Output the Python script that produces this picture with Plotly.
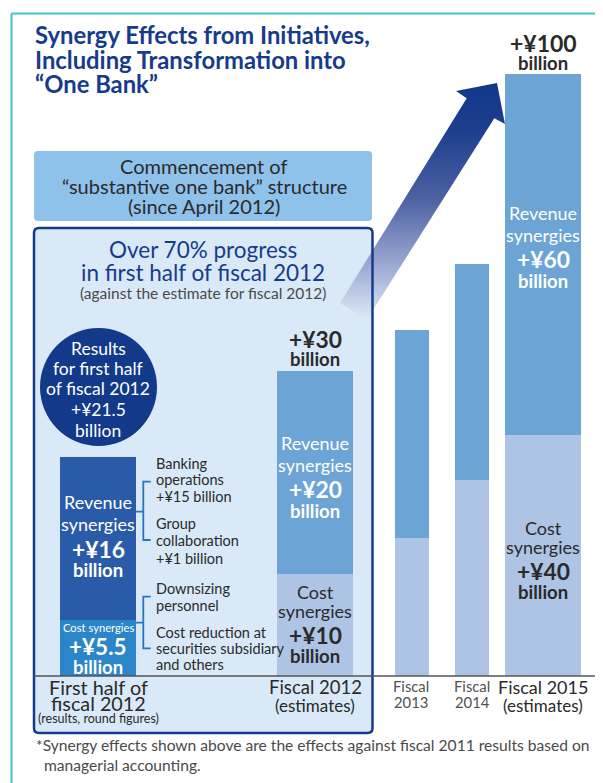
import plotly.graph_objects as go

# ---------------- data ----------------
left_categories = ["First half of fiscal 2012", "Fiscal 2012"]
left_cost = [5.5, 10]
left_revenue = [16, 20]

right_categories = ["Fiscal 2013", "Fiscal 2014", "Fiscal 2015"]
right_cost = [23, 32.5, 40]
right_revenue = [34.5, 36, 60]

# ---------------- styling ----------------
OFF = 8                 # page body margin of the html page
W, H = 603 - OFF, 783 - OFF
FONT = "Lato"
NAVY = "#173b8c"
DARK = "#2a2a2a"
GRAY = "#4a4a4a"
WHITE = "#ffffff"
BASE_PX = 676          # window pixel row of the common baseline
LEFT_PX_PER_UNIT = 10.17
RIGHT_PX_PER_UNIT = 6.02


def X(px):
    return (px - OFF) / W


def Y(py):
    return 1 - (py - OFF) / H


fig = go.Figure()

# ----- bars: left panel -----
fig.add_trace(go.Bar(x=left_categories, y=left_cost, width=0.35,
                     marker=dict(color=["#2b85c9", "#adc4e5"], line=dict(width=0)),
                     xaxis="x", yaxis="y", hoverinfo="skip", showlegend=False))
fig.add_trace(go.Bar(x=left_categories, y=left_revenue, width=0.35,
                     marker=dict(color=["#2a5ba8", "#6ca4d6"], line=dict(width=0)),
                     xaxis="x", yaxis="y", hoverinfo="skip", showlegend=False))

# ----- bars: right panel -----
r_width = [0.52, 0.52, 1.16]
r_offset = [-0.26, -0.344, -0.58]
fig.add_trace(go.Bar(x=right_categories, y=right_cost, width=r_width, offset=r_offset,
                     marker=dict(color="#adc4e5", line=dict(width=0)),
                     xaxis="x2", yaxis="y2", hoverinfo="skip", showlegend=False))
fig.add_trace(go.Bar(x=right_categories, y=right_revenue, width=r_width, offset=r_offset,
                     marker=dict(color="#6ca4d6", line=dict(width=0)),
                     xaxis="x2", yaxis="y2", hoverinfo="skip", showlegend=False))

# ----- decorative gradient arrow (overlay axis in window pixel units) -----
arrow_x = [497, 505, 494.3, 367, 340, 466.7, 456, 497]
arrow_y = [83, 124, 118.3, 319.5, 303, 98.3, 91, 83]
fig.add_trace(go.Scatter(
    x=arrow_x, y=arrow_y, xaxis="x3", yaxis="y3", mode="lines",
    line=dict(width=0), fill="toself",
    fillgradient=dict(type="vertical", start=83, stop=316,
                      colorscale=[[0, "#12388a"], [0.2, "#1c3e8c"], [0.5, "#4d62a2"],
                                  [0.78, "#9ca8d2"], [1.0, "#d9e6f5"]]),
    hoverinfo="skip", showlegend=False))


def rrect(x0, y0, x1, y1, r):
    p = f"M {X(x0 + r)},{Y(y0)} L {X(x1 - r)},{Y(y0)} Q {X(x1)},{Y(y0)} {X(x1)},{Y(y0 + r)} "
    p += f"L {X(x1)},{Y(y1 - r)} Q {X(x1)},{Y(y1)} {X(x1 - r)},{Y(y1)} "
    p += f"L {X(x0 + r)},{Y(y1)} Q {X(x0)},{Y(y1)} {X(x0)},{Y(y1 - r)} "
    p += f"L {X(x0)},{Y(y0 + r)} Q {X(x0)},{Y(y0)} {X(x0 + r)},{Y(y0)} Z"
    return p


shapes = []
# teal frame
shapes.append(dict(type="line", xref="paper", yref="paper", x0=X(11.5), x1=X(11.5), y0=Y(13.5), y1=0,
                   line=dict(color="#3cc6c8", width=2), layer="below"))
shapes.append(dict(type="line", xref="paper", yref="paper", x0=X(11.5), x1=1, y0=Y(13.5), y1=Y(13.5),
                   line=dict(color="#3cc6c8", width=2), layer="below"))
# commencement box
shapes.append(dict(type="path", xref="paper", yref="paper", path=rrect(34, 151, 372, 221, 4),
                   fillcolor="#8fc2ea", line=dict(width=0), layer="below"))
# progress panel fill and border
shapes.append(dict(type="path", xref="paper", yref="paper", path=rrect(34, 228, 372.5, 733, 5),
                   fillcolor="#d9e9f7", line=dict(width=0), layer="below"))
shapes.append(dict(type="path", xref="paper", yref="paper", path=rrect(34, 228, 372.5, 733, 5),
                   fillcolor="rgba(0,0,0,0)", line=dict(color=NAVY, width=2.5), layer="above"))
# circle
shapes.append(dict(type="circle", xref="paper", yref="paper", x0=X(40), x1=X(157), y0=Y(328), y1=Y(446),
                   fillcolor="#13398a", line=dict(width=0), layer="below"))
# baseline
shapes.append(dict(type="line", xref="paper", yref="paper", x0=X(34), x1=1, y0=Y(BASE_PX), y1=Y(BASE_PX),
                   line=dict(color="#555555", width=1.5), layer="above"))
# brackets
BR = "#2b74c4"
for (ys, yt, yb) in [(511.7, 481.7, 540), (622.7, 596.7, 648.3)]:
    path = (f"M {X(136)},{Y(ys)} L {X(143.3)},{Y(ys)} "
            f"M {X(150.7)},{Y(yt)} L {X(143.3)},{Y(yt)} L {X(143.3)},{Y(yb)} L {X(150.7)},{Y(yb)}")
    shapes.append(dict(type="path", xref="paper", yref="paper", path=path,
                       line=dict(color=BR, width=1.8), layer="above"))

annotations = []


def ann(x, y, text, size, color=DARK, bold=False, xanchor="center", xref="paper", yref="paper",
        xshift=0, yshift=0, family=FONT):
    annotations.append(dict(
        x=x, y=y, xref=xref, yref=yref, text=f"<b>{text}</b>" if bold else text,
        showarrow=False, xanchor=xanchor, yanchor="middle", xshift=xshift, yshift=yshift,
        font=dict(family=family, size=size, color=color)))


def annp(px, py, text, size, **kw):
    ann(X(px), Y(py), text, size, **kw)


# title
for txt, py in [("Synergy Effects from Initiatives,", 35), ("Including Transformation into", 60),
                ("“One Bank”", 84)]:
    annp(33, py, txt, 23.8, color=NAVY, bold=True, xanchor="left")

# commencement box text
for txt, py in [("Commencement of", 165.5), ("“substantive one bank” structure", 186),
                ("(since April 2012)", 206)]:
    annp(204, py, txt, 20, color=DARK)

# progress panel heading
annp(203, 249, "Over 70% progress", 22.5, color=NAVY)
annp(203, 272.5, "in first half of fiscal 2012", 22.5, color=NAVY)
annp(203, 292.5, "(against the estimate for fiscal 2012)", 15.5, color=GRAY)

# circle text
for txt, py in [("Results", 348), ("for first half", 368.3), ("of fiscal 2012", 388.3),
                ("+¥21.5", 409.7), ("billion", 430.3)]:
    annp(98.5, py, txt, 17.5, color=WHITE)

# bracket texts
for txt, py in [("Banking", 463.8), ("operations", 479.5), ("+¥15 billion", 496),
                ("Group", 523.8), ("collaboration", 540.5), ("+¥1 billion", 558),
                ("Downsizing", 588.7), ("personnel", 605), ("Cost reduction at", 632),
                ("securities subsidiary", 648.5), ("and others", 664)]:
    annp(154, py, txt, 14.5, color=DARK, xanchor="left")


# in-bar labels, positioned from the bar values through the axes
def bar_label(xref, yref, cat, mid, lines, color, xshift=0):
    for txt, size, bold, dy in lines:
        ann(cat, mid, txt, size, color=color, bold=bold, xref=xref, yref=yref,
            yshift=-dy, xshift=xshift)


def rev_lines(val, dys):
    return [("Revenue", 18, False, dys[0]), ("synergies", 18, False, dys[1]),
            (val, 22.8, True, dys[2]), ("billion", 18.5, True, dys[3])]


def cost_lines(val, dys):
    return [("Cost", 18, False, dys[0]), ("synergies", 18, False, dys[1]),
            (val, 22.8, True, dys[2]), ("billion", 18.5, True, dys[3])]


# first half
bar_label("x", "y", left_categories[0], left_cost[0] + left_revenue[0] / 2,
          rev_lines(f"+¥{left_revenue[0]:g}", [-36.7, -14.7, 10.3, 31.3]), WHITE)
bar_label("x", "y", left_categories[0], left_cost[0] / 2,
          [("Cost synergies", 11.2, False, -20.5), (f"+¥{left_cost[0]:g}", 22.5, True, -1.5),
           ("billion", 18.5, True, 18.5)], WHITE)
# fiscal 2012
bar_label("x", "y", left_categories[1], left_cost[1] + left_revenue[1] / 2,
          rev_lines(f"+¥{left_revenue[1]:g}", [-29.6, -7.6, 16.4, 38.4]), WHITE)
bar_label("x", "y", left_categories[1], left_cost[1] / 2,
          cost_lines(f"+¥{left_cost[1]:g}", [-33.2, -14.2, 9.8, 30.8]), DARK)
tot12 = left_cost[1] + left_revenue[1]
bar_label("x", "y", left_categories[1], tot12,
          [(f"+¥{tot12:g}", 22.8, True, -32), ("billion", 18.5, True, -12)], DARK)
# fiscal 2015
bar_label("x2", "y2", right_categories[2], right_cost[2] + right_revenue[2] / 2,
          rev_lines(f"+¥{right_revenue[2]:g}", [-41.6, -19.6, 4.4, 26.4]), WHITE)
bar_label("x2", "y2", right_categories[2], right_cost[2] / 2,
          cost_lines(f"+¥{right_cost[2]:g}", [-27.6, -8.6, 15.4, 36.4]), DARK)
tot15 = right_cost[2] + right_revenue[2]
bar_label("x2", "y2", right_categories[2], tot15,
          [(f"+¥{tot15:g}", 23, True, -31), ("billion", 18.5, True, -11)], DARK)

# category labels under the baseline
base_y = Y(BASE_PX)
ann(left_categories[0], base_y, "First half of", 19.8, xref="x", yshift=-11)
ann(left_categories[0], base_y, "fiscal 2012", 19.8, xref="x", yshift=-27)
ann(left_categories[0], base_y, "(results, round figures)", 12.5, xref="x", yshift=-42.5)
ann(left_categories[1], base_y, "Fiscal 2012", 18.5, xref="x", yshift=-11)
ann(left_categories[1], base_y, "(estimates)", 17, xref="x", yshift=-29)
for cat, xs in zip(right_categories[:2], [-1, -5.5]):
    name, year = cat.split(" ")
    ann(cat, base_y, name, 14.8, color="#505050", xref="x2", yshift=-10, xshift=xs)
    ann(cat, base_y, year, 14.8, color="#505050", xref="x2", yshift=-26, xshift=xs)
ann(right_categories[2], base_y, "Fiscal 2015", 18, xref="x2", yshift=-11)
ann(right_categories[2], base_y, "(estimates)", 17, xref="x2", yshift=-29)

# footnote
annp(34, 745, "*Synergy effects shown above are the effects against fiscal 2011 results based on",
     15.6, color=GRAY, xanchor="left")
annp(42, 765, "managerial accounting.", 15.6, color=GRAY, xanchor="left")

ydom = [Y(BASE_PX), 1]
fig.update_layout(
    width=W, height=H, margin=dict(l=0, r=0, t=0, b=0),
    paper_bgcolor="white", plot_bgcolor="rgba(0,0,0,0)",
    barmode="stack", bargap=0, showlegend=False,
    font=dict(family=FONT),
    xaxis=dict(domain=[X(11.2), X(401.8)], range=[-0.4, 1.4], type="category",
               categoryarray=left_categories, visible=False, fixedrange=True),
    yaxis=dict(domain=ydom, range=[0, (BASE_PX - OFF) / LEFT_PX_PER_UNIT], visible=False,
               fixedrange=True),
    xaxis2=dict(domain=[X(372.7), X(588.85)], range=[-0.6, 2.7], type="category",
                categoryarray=right_categories, visible=False, anchor="y2", fixedrange=True),
    yaxis2=dict(domain=ydom, range=[0, (BASE_PX - OFF) / RIGHT_PX_PER_UNIT], visible=False,
                anchor="x2", fixedrange=True),
    xaxis3=dict(domain=[0, 1], range=[OFF, OFF + W], visible=False, anchor="y3", fixedrange=True),
    yaxis3=dict(domain=[0, 1], range=[OFF + H, OFF], visible=False, anchor="x3", fixedrange=True),
    shapes=shapes, annotations=annotations,
)

fig.write_html("out.html")
